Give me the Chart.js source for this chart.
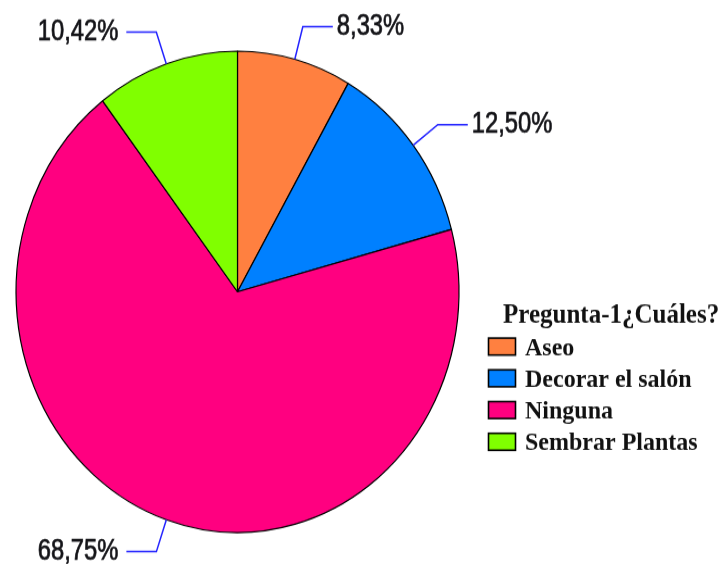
<!DOCTYPE html>
<html><head><meta charset="utf-8">
<script src="https://cdn.jsdelivr.net/npm/chart.js@4/dist/chart.umd.min.js"></script>
<style>
html,body{margin:0;padding:0;background:#fff;overflow:hidden;width:724px;height:564px}
#wrap{position:absolute;left:0;top:0;width:724px;height:519px;transform:scaleY(1.08671);transform-origin:0 0}
</style></head><body>
<div id="wrap"><canvas id="c" width="724" height="519"></canvas></div>
<script>
const categories = ["Aseo", "Decorar el salón", "Ninguna", "Sembrar Plantas"];
const percentages = [8.33, 12.50, 68.75, 10.42];
const percentLabels = ["8,33%", "12,50%", "68,75%", "10,42%"];
const legendTitle = "Pregunta-1¿Cuáles?";
const sliceColors = ["#FF8040", "#0080FF", "#FF0080", "#80FF00"];

const labelPlugin = {
  id: 'leaderLabels',
  afterDatasetsDraw(chart) {
    const ctx = chart.ctx;
    const meta = chart.getDatasetMeta(0);
    meta.data.forEach((arc, i) => {
      const p = arc.getProps(['x', 'y', 'startAngle', 'endAngle', 'outerRadius'], true);
      const mid = (p.startAngle + p.endAngle) / 2;
      const c = Math.cos(mid), s = Math.sin(mid);
      const ex = p.x + c * p.outerRadius, ey = p.y + s * p.outerRadius;
      const L = 31;
      const bx = ex + c * L, by = ey + s * L;
      const dir = c >= 0 ? 1 : -1;
      const hx = bx + dir * 30;
      ctx.save();
      ctx.strokeStyle = '#2222ff';
      ctx.lineWidth = 1.5;
      ctx.beginPath();
      ctx.moveTo(ex, ey); ctx.lineTo(bx, by); ctx.lineTo(hx, by);
      ctx.stroke();
      ctx.fillStyle = '#141418';
      ctx.strokeStyle = '#141418';
      ctx.lineWidth = 0.7;
      ctx.font = '27px "Liberation Sans", Arial, sans-serif';
      ctx.textBaseline = 'alphabetic';
      ctx.textAlign = dir > 0 ? 'left' : 'right';
      ctx.translate(hx + dir * (dir > 0 ? 4 : 8), by + 7.5);
      ctx.scale(0.88, 1);
      ctx.fillText(percentLabels[i], 0, 0);
      ctx.strokeText(percentLabels[i], 0, 0);
      ctx.restore();
    });
  }
};

const legendPlugin = {
  id: 'customLegend',
  afterDraw(chart) {
    const ctx = chart.ctx;
    const ds = chart.data.datasets[0];
    ctx.save();
    ctx.fillStyle = '#111';
    ctx.textAlign = 'left';
    ctx.textBaseline = 'alphabetic';
    ctx.font = 'bold 25px "Liberation Serif", "Times New Roman", serif';
    ctx.fillText(legendTitle, 503, 297.2);
    ctx.font = 'bold 24px "Liberation Serif", "Times New Roman", serif';
    chart.data.labels.forEach((lab, i) => {
      const base = 326.7 + i * 29.2;
      ctx.fillStyle = ds.backgroundColor[i];
      ctx.fillRect(488.5, base - 15.6, 27, 15.6);
      ctx.strokeStyle = '#000';
      ctx.lineWidth = 1.6;
      ctx.strokeRect(488.5, base - 15.6, 27, 15.6);
      ctx.fillStyle = '#111';
      ctx.fillText(lab, 525, base);
    });
    ctx.restore();
  }
};

new Chart(document.getElementById('c'), {
  type: 'pie',
  data: {
    labels: categories,
    datasets: [{
      data: percentages,
      backgroundColor: sliceColors,
      borderColor: '#000',
      borderWidth: 1.2
    }]
  },
  options: {
    responsive: false,
    animation: false,
    radius: 221.5,
    layout: { padding: { left: 16, right: 265, top: 47, bottom: 29 } },
    plugins: { legend: { display: false }, tooltip: { enabled: false } }
  },
  plugins: [labelPlugin, legendPlugin]
});
</script>
</body></html>
